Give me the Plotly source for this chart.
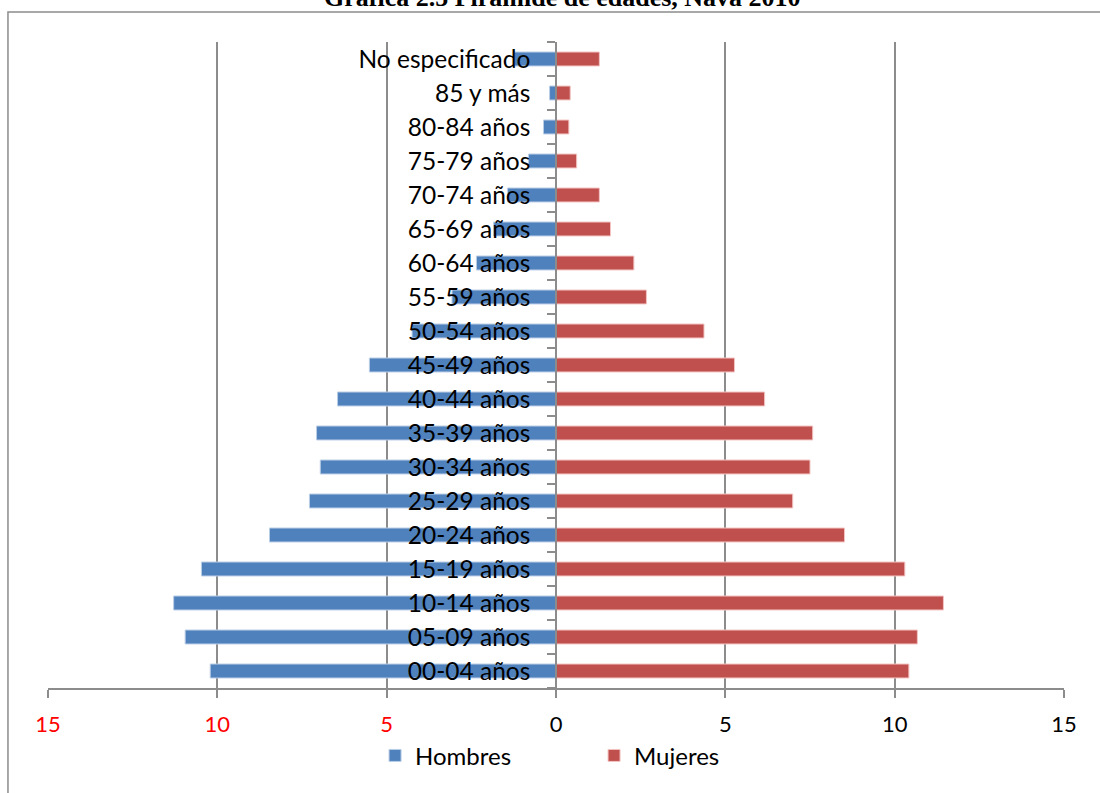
import plotly.graph_objects as go

categories = ["00-04 años", "05-09 años", "10-14 años", "15-19 años", "20-24 años",
              "25-29 años", "30-34 años", "35-39 años", "40-44 años", "45-49 años",
              "50-54 años", "55-59 años", "60-64 años", "65-69 años", "70-74 años",
              "75-79 años", "80-84 años", "85 y más", "No especificado"]
hombres = [10.21, 10.95, 11.29, 10.47, 8.46, 7.28, 6.96, 7.07, 6.45, 5.51,
           4.25, 3.07, 2.35, 1.84, 1.43, 0.81, 0.37, 0.19, 1.23]
mujeres = [10.42, 10.67, 11.44, 10.30, 8.52, 6.99, 7.50, 7.58, 6.16, 5.27,
           4.37, 2.67, 2.30, 1.61, 1.28, 0.61, 0.38, 0.42, 1.28]
x_ticks = [-15, -10, -5, 0, 5, 10, 15]
x_tick_labels = ['<span style="color:#FF0000">15</span>',
                 '<span style="color:#FF0000">10</span>',
                 '<span style="color:#FF0000">5</span>',
                 '0', '5', '10', '15']

GRAY = "#8C8C8C"
FONT = "Lato"

fig = go.Figure()
fig.add_trace(go.Bar(
    y=categories, x=[-v for v in hombres], orientation="h", name="Hombres",
    marker=dict(color="#4F81BD", line=dict(color="#B9CDE5", width=1)),
    customdata=hombres, hovertemplate="%{y}: %{customdata}<extra>Hombres</extra>"))
fig.add_trace(go.Bar(
    y=categories, x=mujeres, orientation="h", name="Mujeres",
    marker=dict(color="#C0504D", line=dict(color="#F2C4C3", width=1)),
    hovertemplate="%{y}: %{x}<extra>Mujeres</extra>"))

fig.update_layout(
    width=1100, height=793,
    margin=dict(l=48, r=36, t=42, b=105),
    paper_bgcolor="white", plot_bgcolor="white",
    barmode="overlay", bargap=0.59,
    font=dict(family=FONT, size=22, color="black"),
    showlegend=True,
    legend=dict(orientation="h", x=0.3219, xanchor="left", y=-0.105, yanchor="middle",
                bgcolor="rgba(0,0,0,0)",
                font=dict(family=FONT, size=24), entrywidth=174, traceorder="normal",
                itemclick=False),
    xaxis=dict(range=[-15, 15], tickvals=x_ticks, ticktext=x_tick_labels,
               showgrid=True, gridcolor=GRAY, gridwidth=1.5, zeroline=False,
               showline=True, linecolor=GRAY, linewidth=1.5,
               ticks="outside", ticklen=8, tickcolor=GRAY, tickwidth=1.5,
               ticklabelstandoff=8,
               tickfont=dict(family=FONT, size=22, color="black")),
    yaxis=dict(type="category", range=[-0.5, 18.5], anchor="free", position=0.5,
               showgrid=False, zeroline=False,
               showline=True, linecolor=GRAY, linewidth=1.5,
               ticks="outside", tickson="boundaries", ticklen=8, tickcolor=GRAY, tickwidth=1.5,
               ticklabelstandoff=20,
               tickfont=dict(family=FONT, size=24.5, color="black")),
)

# outer chart frame
fig.add_shape(type="rect", xref="paper", yref="paper",
              x0=-0.0394, x1=1.1, y0=-0.3, y1=1.0464,
              line=dict(color=GRAY, width=1.5), fillcolor="rgba(0,0,0,0)", layer="below")

fig.add_annotation(text="<b>Gráfica 2.5 Pirámide de edades, Nava 2010</b>",
                   xref="paper", yref="paper", x=0.506, y=1.0433, xanchor="center",
                   yanchor="bottom", showarrow=False,
                   font=dict(family="Liberation Serif", size=26, color="black"))

fig.write_html("out.html")
